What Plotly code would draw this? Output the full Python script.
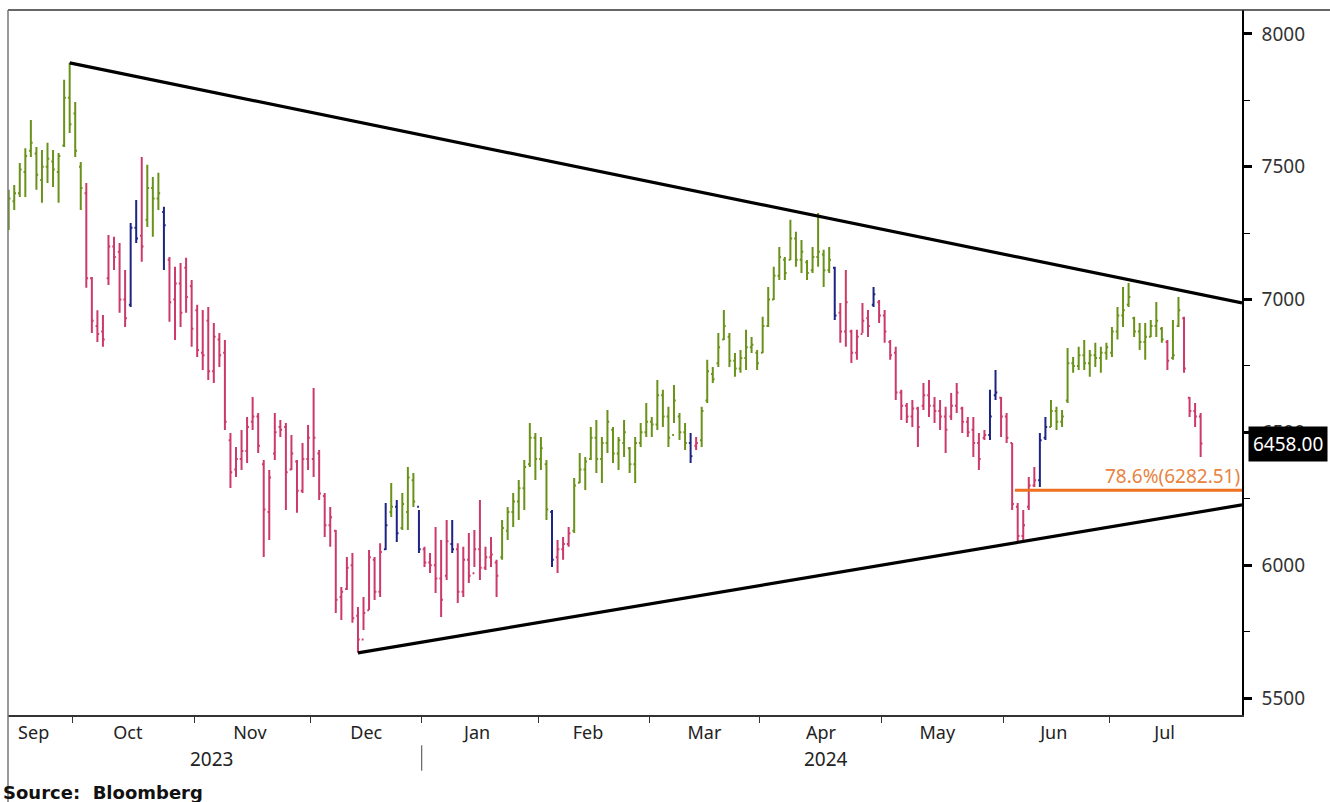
import pandas as pd
import plotly.graph_objects as go

# Bloomberg-ish bar colours
GREEN = "#6a921a"
RED = "#cc3a6a"
BLUE = "#1c2484"
ORANGE = "#f07021"
ORANGE_TEXT = "#e8833f"
FONT = "Noto Sans, Open Sans, sans-serif"

# trading days (US style calendar)
holidays = ["2023-11-23", "2023-12-25", "2024-01-01", "2024-01-15", "2024-02-19",
            "2024-03-29", "2024-05-27", "2024-06-19", "2024-07-04"]
first_day = "2023-09-14"
last_day = "2024-07-24"

# daily OHLC (Sep | Oct | Nov | Dec | Jan | Feb | Mar | Apr | May | Jun | Jul)
high = [
    7413, 7431, 7514, 7570, 7676, 7574, 7563, 7590, 7563, 7552, 7827, 7891,
    7744, 7518, 7439, 7085, 6960, 6942, 7243, 7236, 7213, 7111, 7288, 7375, 7537, 7507, 7461, 7477, 7349, 7160, 7123, 7138, 7157, 7074,
    6980, 6961, 6972, 6912, 6874, 6848, 6498, 6445, 6509, 6558, 6633, 6573, 6396, 6358, 6573, 6547, 6535, 6490, 6396, 6460, 6528,
    6667, 6434, 6272, 6219, 6132, 5918, 6031, 6046, 5843, 5880, 6057, 6031, 6083, 6234, 6309, 6245, 6272, 6370, 6347, 6208,
    6069, 6046, 6144, 6095, 6170, 6170, 6083, 6069, 6121, 6132, 6245, 6069, 6106, 6020, 6170, 6219, 6272, 6321, 6396, 6535, 6498,
    6483, 6396, 6208, 6095, 6106, 6144, 6328, 6422, 6407, 6520, 6547, 6483, 6584, 6520, 6483, 6547, 6445, 6483, 6535, 6611,
    6558, 6697, 6660, 6596, 6678, 6573, 6535, 6498, 6483, 6596, 6773, 6746, 6874, 6961, 6874, 6799, 6810, 6886, 6859, 6810,
    6935, 7047, 7123, 7198, 7160, 7300, 7255, 7224, 7149, 7198, 7326, 7187, 7198, 7123, 6987, 7111, 6886, 6886, 6987, 6961, 7047, 6998,
    6961, 6848, 6822, 6660, 6611, 6622, 6596, 6686, 6697, 6633, 6622, 6596, 6648, 6686, 6596, 6558, 6558, 6498, 6509, 6660, 6735, 6633,
    6573, 6460, 6234, 6208, 6332, 6370, 6498, 6558, 6622, 6596, 6584, 6818, 6784, 6822, 6848, 6810, 6837, 6822, 6837,
    6897, 6972, 7047, 7062, 6935, 6912, 6912, 6923, 6991, 6897, 6848, 6923, 7010, 6935, 6633, 6611, 6573,
]
low = [
    7262, 7337, 7386, 7386, 7537, 7413, 7364, 7439, 7424, 7364, 7574, 7627,
    7537, 7337, 7044, 6874, 6840, 6822, 7055, 7111, 6950, 6897, 6972, 7213, 7142, 7273, 7236, 7337, 7111, 6916, 6848, 6897, 6950, 6822,
    6784, 6735, 6697, 6686, 6746, 6509, 6291, 6332, 6358, 6385, 6509, 6422, 6031, 6095, 6396, 6483, 6208, 6358, 6197, 6272, 6358,
    6332, 6245, 6106, 6069, 5820, 5794, 5907, 5783, 5670, 5756, 5831, 5869, 5880, 6057, 6181, 6087, 6132, 6132, 6219, 6046,
    5993, 5971, 5895, 5805, 5944, 6046, 5858, 5880, 5933, 5993, 5944, 5982, 5993, 5880, 6020, 6095, 6144, 6170, 6208, 6370, 6321,
    6358, 6170, 5993, 5971, 6020, 6069, 6121, 6309, 6283, 6396, 6347, 6309, 6422, 6385, 6358, 6407, 6347, 6309, 6445, 6483,
    6483, 6509, 6520, 6445, 6535, 6471, 6434, 6385, 6434, 6445, 6611, 6686, 6746, 6848, 6746, 6709, 6724, 6735, 6799, 6735,
    6799, 6897, 6998, 7074, 7074, 7149, 7123, 7100, 7074, 7100, 7123, 7047, 7100, 6923, 6837, 6822, 6761, 6773, 6874, 6859, 6972, 6912,
    6837, 6773, 6622, 6547, 6535, 6520, 6445, 6584, 6558, 6535, 6509, 6422, 6547, 6573, 6498, 6483, 6407, 6358, 6471, 6471, 6622, 6483,
    6460, 6208, 6087, 6095, 6208, 6294, 6294, 6471, 6520, 6509, 6520, 6611, 6724, 6735, 6735, 6709, 6746, 6724, 6773,
    6784, 6850, 6897, 6972, 6859, 6810, 6773, 6859, 6859, 6837, 6735, 6773, 6897, 6724, 6558, 6520, 6407,
]
open_ = [
    7300, 7370, 7400, 7480, 7560, 7550, 7450, 7500, 7520, 7480, 7580, 7760,
    7700, 7500, 7400, 7080, 6900, 6880, 7080, 7200, 7180, 7000, 6980, 7270, 7240, 7300, 7420, 7380, 7330, 7150, 7000, 7060, 7120, 7050,
    6960, 6800, 6920, 6730, 6850, 6800, 6470, 6360, 6400, 6430, 6540, 6560, 6380, 6200, 6420, 6520, 6520, 6360, 6390, 6280, 6400,
    6400, 6420, 6260, 6150, 6130, 5880, 5910, 6000, 5810, 5720, 5830, 6020, 5900, 6060, 6200, 6220, 6140, 6200, 6320, 6220,
    6060, 6010, 6000, 5950, 5960, 6080, 6060, 5900, 6020, 5970, 6060, 5990, 6030, 6010, 6030, 6130, 6200, 6240, 6290, 6380, 6480,
    6400, 6380, 6200, 6030, 6060, 6080, 6130, 6310, 6360, 6400, 6480, 6400, 6460, 6510, 6420, 6460, 6440, 6380, 6460, 6500,
    6540, 6530, 6640, 6560, 6490, 6560, 6500, 6460, 6450, 6470, 6620, 6720, 6760, 6850, 6860, 6770, 6740, 6780, 6820, 6800,
    6800, 6900, 7000, 7090, 7150, 7150, 7230, 7150, 7140, 7110, 7160, 7170, 7110, 7120, 6950, 6880, 6880, 6800, 6870, 6930, 6980, 6990,
    6940, 6840, 6800, 6650, 6600, 6560, 6590, 6600, 6640, 6600, 6580, 6560, 6560, 6600, 6590, 6540, 6510, 6460, 6480, 6490, 6640, 6630,
    6560, 6460, 6220, 6110, 6220, 6300, 6320, 6480, 6520, 6580, 6540, 6620, 6760, 6750, 6790, 6760, 6790, 6780, 6800,
    6800, 6880, 6940, 6980, 6930, 6880, 6840, 6860, 6900, 6890, 6840, 6780, 6900, 6930, 6630, 6580, 6560,
]
close = [
    7380, 7400, 7490, 7540, 7590, 7470, 7500, 7530, 7490, 7540, 7760, 7660,
    7560, 7420, 7080, 6920, 6870, 6850, 7200, 7160, 7000, 6930, 7270, 7230, 7200, 7420, 7380, 7400, 7280, 6990, 7060, 6950, 7010, 6890,
    6810, 6790, 6730, 6860, 6790, 6540, 6350, 6400, 6430, 6520, 6560, 6450, 6210, 6330, 6500, 6510, 6350, 6420, 6280, 6400, 6480,
    6480, 6270, 6150, 6180, 5870, 5900, 5990, 5800, 5720, 5820, 6030, 5900, 6050, 6150, 6220, 6120, 6230, 6330, 6240, 6060,
    6010, 6000, 5950, 5870, 6090, 6060, 5900, 6020, 5960, 6060, 5990, 6030, 6040, 5960, 6140, 6200, 6240, 6290, 6370, 6480, 6400,
    6440, 6210, 6020, 6060, 6080, 6120, 6300, 6360, 6390, 6480, 6400, 6460, 6540, 6420, 6470, 6500, 6380, 6460, 6500, 6540,
    6530, 6640, 6560, 6480, 6620, 6500, 6460, 6410, 6460, 6580, 6730, 6700, 6820, 6900, 6770, 6740, 6780, 6820, 6830, 6760,
    6900, 7000, 7090, 7160, 7100, 7230, 7150, 7180, 7100, 7160, 7180, 7110, 7150, 6940, 6880, 6990, 6800, 6860, 6920, 6900, 7020, 6940,
    6880, 6790, 6650, 6600, 6560, 6590, 6520, 6640, 6600, 6580, 6560, 6510, 6600, 6650, 6540, 6500, 6460, 6400, 6490, 6560, 6650, 6560,
    6480, 6230, 6110, 6150, 6300, 6320, 6470, 6520, 6580, 6540, 6560, 6760, 6750, 6790, 6760, 6790, 6780, 6800, 6820,
    6880, 6940, 6960, 7010, 6880, 6840, 6860, 6900, 6920, 6850, 6770, 6790, 6960, 6740, 6580, 6560, 6458,
]
# g = green, r = red, b = blue bar
tone = ("gggggggggggg"
        "ggrrrrrrrrbbrgggbrrrrr"
        "rrrrrrrrrrrrrrrrrrrrr"
        "rrrrrrrrrrrrrbgbgggb"
        "rrrrrbrrrrrrrrggggggg"
        "ggbrrrgggggggggggggg"
        "gggggggbrggggggggggg"
        "gggggggggggggbrrrrrrbr"
        "rrrrrrrrrrrrrrrrrrrbbr"
        "rrrrrrbbggggggggggg"
        "ggggggggggrggrrrr")

# trend lines / retracement drawn on the chart
upper_dates = ["2023-09-29 12:00", "2024-08-02 23:00"]
upper_levels = [7891, 6987]
lower_dates = ["2023-12-13 12:00", "2024-08-02 23:00"]
lower_levels = [5670, 6227]
fib_dates = ["2024-06-05 00:00", "2024-08-02 23:00"]
fib_level = 6282.51
last_price = 6458.00

# axes
x_range = ["2023-09-14 09:00", "2024-08-02 23:00"]
y_range = [5436, 8090]
price_ticks = [5500, 6000, 6500, 7000, 7500, 8000]
month_label_dates = ["2023-09-21", "2023-10-16", "2023-11-15", "2023-12-15", "2024-01-17",
                     "2024-02-14", "2024-03-15", "2024-04-16", "2024-05-15", "2024-06-14", "2024-07-16"]
month_labels = ["Sep", "Oct", "Nov", "Dec", "Jan", "Feb", "Mar", "Apr", "May", "Jun", "Jul"]
month_starts = ["2023-10-02", "2023-11-01", "2023-12-01", "2024-01-02", "2024-02-01",
                "2024-03-01", "2024-04-01", "2024-05-01", "2024-06-03", "2024-07-01"]
years = ["2023", "2024"]
year_label_dates = ["2023-11-06", "2024-04-17"]

dates = pd.bdate_range(first_day, last_day, freq="C", holidays=holidays) + pd.Timedelta(hours=12)
df = pd.DataFrame({"date": dates, "open": open_, "high": high, "low": low,
                   "close": close, "tone": list(tone)})

fig = go.Figure()
for key, col in [("r", RED), ("g", GREEN), ("b", BLUE)]:
    sub = df[df["tone"] == key]
    fig.add_trace(go.Ohlc(
        x=sub["date"], open=sub["open"], high=sub["high"], low=sub["low"], close=sub["close"],
        increasing_line_color=col, decreasing_line_color=col,
        line_width=2, tickwidth=0.32, hoverinfo="skip",
    ))

fig.add_trace(go.Scatter(x=upper_dates, y=upper_levels, mode="lines",
                         line=dict(color="black", width=3.2), hoverinfo="skip"))
fig.add_trace(go.Scatter(x=lower_dates, y=lower_levels, mode="lines",
                         line=dict(color="black", width=3.2), hoverinfo="skip"))
fig.add_trace(go.Scatter(x=fib_dates, y=[fib_level, fib_level], mode="lines",
                         line=dict(color=ORANGE, width=3), hoverinfo="skip"))

fig.add_annotation(x=1, xref="paper", y=fib_level, yref="y", xanchor="right", yanchor="bottom",
                   text=f"78.6%({fib_level:.2f})", showarrow=False, yshift=-1,
                   font=dict(family=FONT, size=19, color=ORANGE_TEXT))
fig.add_annotation(x=1, xref="paper", y=last_price, yref="y", xanchor="left", yanchor="middle",
                   text=f"{last_price:.2f}", showarrow=False, xshift=6, bgcolor="black",
                   borderpad=4, font=dict(family=FONT, size=19, color="white"))

for yr, d in zip(years, year_label_dates):
    fig.add_annotation(x=d, xref="x", y=-0.063, yref="paper", text=yr, showarrow=False,
                       yanchor="middle", font=dict(family=FONT, size=19, color="#222"))
fig.add_annotation(x=-0.006, xref="paper", y=-0.11, yref="paper", xanchor="left", yanchor="middle",
                   text="<b>Source:  Bloomberg</b>", showarrow=False,
                   font=dict(family="DejaVu Sans", size=18, color="#111"))

# year separator and outer frame
fig.add_shape(type="line", xref="x", yref="paper", x0="2024-01-02", x1="2024-01-02",
              y0=-0.043, y1=-0.079, line=dict(color="#444", width=1))
fig.add_shape(type="line", xref="paper", yref="paper", x0=0, x1=1.08, y0=1, y1=1,
              line=dict(color="#333", width=1.5))
fig.add_shape(type="line", xref="paper", yref="paper", x0=0, x1=0, y0=1, y1=-0.125,
              line=dict(color="#777", width=1.5))

fig.update_layout(
    width=1330, height=802,
    margin=dict(l=8, r=88, t=10, b=87),
    paper_bgcolor="white", plot_bgcolor="white",
    showlegend=False,
    font=dict(family=FONT, size=18, color="#222"),
)
fig.update_xaxes(
    type="date", range=x_range, rangeslider_visible=False,
    rangebreaks=[dict(bounds=["sat", "mon"]), dict(values=holidays)],
    tickvals=month_label_dates, ticktext=month_labels, ticks="",
    minor=dict(tickvals=month_starts, ticks="outside", ticklen=6, tickcolor="#333", tickwidth=1),
    showline=True, linecolor="#333", linewidth=2, showgrid=False, zeroline=False,
    tickfont=dict(family=FONT, size=18, color="#222"),
)
fig.update_yaxes(
    side="right", range=y_range, tickvals=price_ticks,
    ticks="outside", ticklen=8, tickwidth=3, tickcolor="black",
    minor=dict(dtick=250, ticks="outside", ticklen=6, tickcolor="black", tickwidth=1),
    showline=True, linecolor="black", linewidth=1.5, showgrid=False, zeroline=False,
    ticklabelstandoff=6,
    tickfont=dict(family=FONT, size=19, color="#333"),
)

# the page's default body margin would push the figure 8px down/right
fig.write_html("out.html", config={"displayModeBar": False},
               post_script="document.body.style.margin='0px';")
